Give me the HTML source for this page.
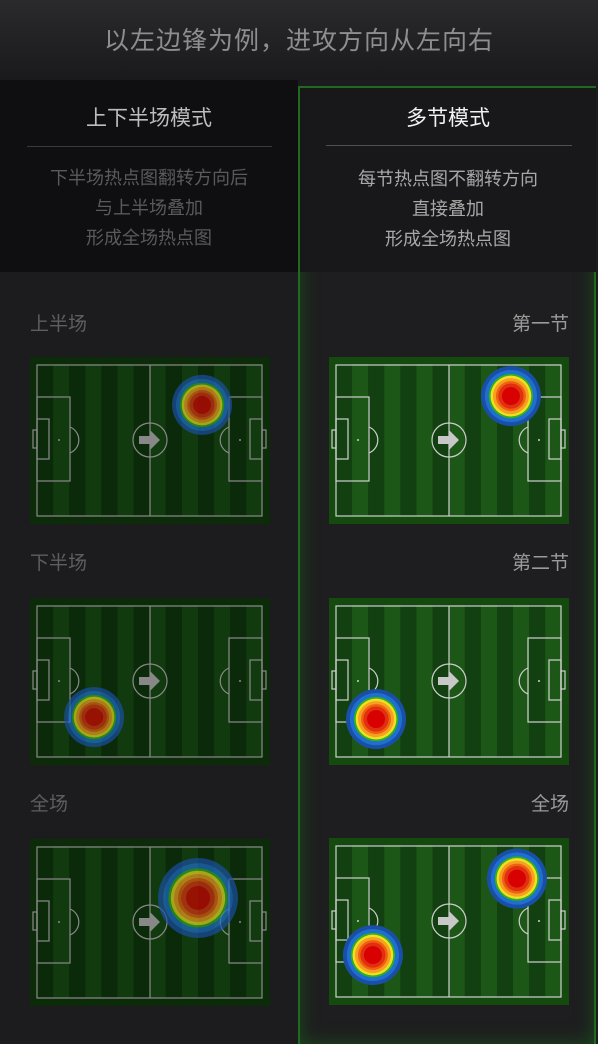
<!DOCTYPE html>
<html><head><meta charset="utf-8"><style>
body{margin:0;width:598px;height:1044px;background:#1c1c1e;font-family:"Liberation Sans","Noto Sans CJK SC",sans-serif;position:relative;overflow:hidden}
.abs{position:absolute}
#hdr{left:0;top:0;width:598px;height:80px;background:linear-gradient(#2a2a2c,#1a1a1c);color:#8e8e8e;font-size:25px;text-align:center;line-height:82px;letter-spacing:1px}
#ltop{left:0;top:80px;width:298px;height:192px;background:#0f0f11}
#right{left:298px;top:86px;width:298px;height:958px;border:2px solid #1f6a1f;border-bottom:none;box-shadow:inset 0 0 18px #1a4a1a;background:#1e1e20;box-sizing:border-box}
#rtop{left:300px;top:88px;width:296px;height:184px;background:#18181a}
.t{text-align:center;font-size:21px}
.d{text-align:center;font-size:18px;line-height:30px}
.sec{font-size:19px;color:#5e5e60}
</style></head><body>
<div id="hdr" class="abs">以左边锋为例，进攻方向从左向右</div>
<div id="ltop" class="abs"></div>
<div id="right" class="abs"></div>
<div id="rtop" class="abs"></div>
<div class="abs t" style="left:0;top:102px;width:298px;color:#bdbdbd">上下半场模式</div>
<div class="abs" style="left:27px;top:146px;width:245px;height:1px;background:#3a3a3c"></div>
<div class="abs d" style="left:0;top:163px;width:298px;color:#5a5a5c">下半场热点图翻转方向后<br>与上半场叠加<br>形成全场热点图</div>
<div class="abs t" style="left:298px;top:102px;width:300px;color:#f2f2f2">多节模式</div>
<div class="abs" style="left:326px;top:145px;width:246px;height:1px;background:#505052"></div>
<div class="abs d" style="left:298px;top:164px;width:300px;color:#a8a8a8">每节热点图不翻转方向<br>直接叠加<br>形成全场热点图</div>
<div class="abs sec" style="left:30px;top:309px">上半场</div>
<div class="abs sec" style="left:30px;top:548px">下半场</div>
<div class="abs sec" style="left:30px;top:789px">全场</div>
<div class="abs sec" style="right:29px;top:309px;color:#9a9a9a">第一节</div>
<div class="abs sec" style="right:29px;top:548px;color:#9a9a9a">第二节</div>
<div class="abs sec" style="right:29px;top:789px;color:#9a9a9a">全场</div>
<svg id="svg" class="abs" style="left:0;top:0" width="598" height="1044"></svg>
<script>
const pitchNames=['pitch-first-half','pitch-second-half','pitch-full-left','pitch-first-period','pitch-second-period','pitch-full-right'];
// heat spots: pitch index, x fraction, y fraction, radius px
const spotPitch=[0,1,2,3,4,5,5];
const spotX=[0.717,0.267,0.700,0.758,0.196,0.783,0.183];
const spotY=[0.287,0.713,0.353,0.234,0.725,0.243,0.701];
const spotR=[30,30,40,30,30,30,30];
const PX=[30,30,30,329,329,329], PY=[357,598,839,357,598,838];
const W=240,H=167;
const NS='http://www.w3.org/2000/svg';
const svg=document.getElementById('svg');
function el(t,a,p){const e=document.createElementNS(NS,t);for(const k in a)e.setAttribute(k,a[k]);(p||svg).appendChild(e);return e;}
const heatCols=['#1a4fa8','#1f6fd0','#30b020','#f0e020','#f5a020','#f06010','#e03010','#d80000'];
const heatFr=[1,0.87,0.74,0.68,0.6,0.5,0.42,0.3];
for(let i=0;i<6;i++){
  const dim=i<3;
  const g=el('g',{transform:`translate(${PX[i]},${PY[i]})`});
  
  
  el('rect',{x:0,y:0,width:W,height:H,fill:dim?'#0c2c09':'#144a0e'},g);
  for(let s=0;s<14;s++){const sx=7+s*16.1;el('rect',{x:sx,y:7,width:16.1,height:152,fill:s%2?(dim?'#113a0f':'#1d5717'):(dim?'#0b2a0a':'#124011')},g);}
  const lc=dim?'#8a8a8a':'#d0d0d0';
  const L={fill:'none',stroke:lc,'stroke-width':1.2};
  el('rect',Object.assign({x:7,y:8,width:225,height:151},L),g);
  el('line',Object.assign({x1:120,y1:8,x2:120,y2:159},L),g);
  el('circle',Object.assign({cx:120,cy:83,r:17},L),g);
  el('rect',Object.assign({x:7,y:40,width:33,height:84},L),g);
  el('rect',Object.assign({x:7,y:62,width:12,height:40},L),g);
  el('rect',Object.assign({x:3,y:73,width:4,height:18},L),g);
  el('path',Object.assign({d:'M40,70 A14,14 0 0 1 40,96'},L),g);
  el('rect',Object.assign({x:199,y:40,width:33,height:84},L),g);
  el('rect',Object.assign({x:220,y:62,width:12,height:40},L),g);
  el('rect',Object.assign({x:232,y:73,width:4,height:18},L),g);
  el('path',Object.assign({d:'M199,70 A14,14 0 0 0 199,96'},L),g);
  el('circle',{cx:29,cy:83,r:1,fill:lc},g);el('circle',{cx:210,cy:83,r:1,fill:lc},g);
  el('path',{d:'M109,79 h11 v-6 l10,10 l-10,10 v-6 h-11 z',fill:dim?'#888':'#c8c8c8'},g);
}
for(let k=0;k<spotPitch.length;k++){
  const i=spotPitch[k],dim=i<3;
  const cx=PX[i]+spotX[k]*W, cy=PY[i]+spotY[k]*H, R=spotR[k];
  const g=el('g',{opacity:dim?0.68:1});
  
  
  heatCols.forEach((c,j)=>{el('circle',{cx,cy,r:R*heatFr[j],fill:c},g);});
}
</script>
</body></html>
